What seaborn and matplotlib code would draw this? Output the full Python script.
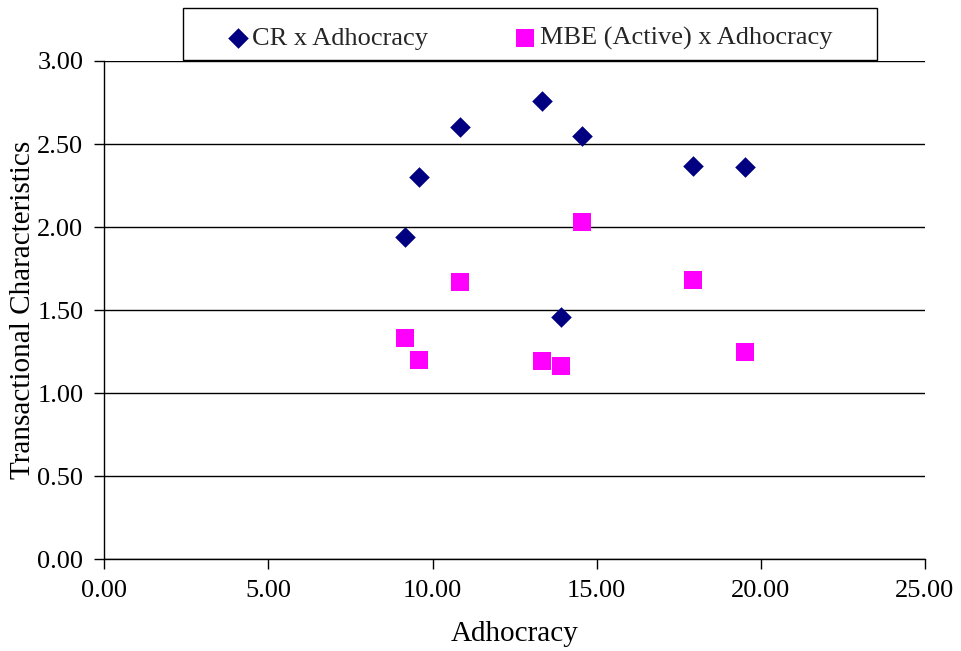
import pandas as pd
import matplotlib
matplotlib.use("Agg")
import matplotlib.pyplot as plt
import matplotlib.patches as patches
import seaborn as sns

# values
adhocracy = [9.17, 9.59, 10.84, 13.34, 14.54, 13.90, 17.94, 19.53]
cr_values = [1.94, 2.30, 2.60, 2.76, 2.55, 1.46, 2.37, 2.36]
mbe_values = [1.33, 1.20, 1.67, 1.19, 2.03, 1.16, 1.68, 1.25]

series_names = ["CR x Adhocracy", "MBE (Active) x Adhocracy"]
x_ticks = [0, 5, 10, 15, 20, 25]
y_ticks = [0, 0.5, 1.0, 1.5, 2.0, 2.5, 3.0]

df = pd.DataFrame(
    {
        "Adhocracy": adhocracy + adhocracy,
        "value": cr_values + mbe_values,
        "series": [series_names[0]] * len(cr_values)
        + [series_names[1]] * len(mbe_values),
    }
)

sns.set_style("white")
plt.rcParams["font.family"] = ["Liberation Serif", "DejaVu Serif"]

W, H = 961, 651
fig = plt.figure(figsize=(W / 100, H / 100), dpi=100)
ax = fig.add_axes([0.1085, 0.1413, 0.854, 0.765])

palette = {series_names[0]: "#000080", series_names[1]: "#FF00FF"}
markers = {series_names[0]: "D", series_names[1]: "s"}
sizes = {series_names[0]: 110, series_names[1]: 165}

for name in series_names:
    sub = df[df["series"] == name]
    sns.scatterplot(
        data=sub,
        x="Adhocracy",
        y="value",
        color=palette[name],
        marker=markers[name],
        s=sizes[name],
        linewidth=0,
        label=name,
        ax=ax,
        zorder=3,
    )

ax.set_xlim(0, 25)
ax.set_ylim(0, 3)
ax.set_xticks(x_ticks)
ax.set_yticks(y_ticks)
ax.set_xticklabels([f"{v:.2f}" for v in x_ticks])
ax.set_yticklabels([f"{v:.2f}" for v in y_ticks])
ax.tick_params(
    axis="both", direction="out", length=7, width=1, color="black",
    labelsize=19, labelcolor="black", pad=8,
    bottom=True, left=True,
)
ax.yaxis.grid(True, color="black", linewidth=1)
ax.xaxis.grid(False)
ax.set_axisbelow(True)

for side in ["top", "right"]:
    ax.spines[side].set_visible(False)
for side in ["left", "bottom"]:
    ax.spines[side].set_color("black")
    ax.spines[side].set_linewidth(1)

ax.set_xlabel("Adhocracy", fontsize=21, color="black", labelpad=14)
ax.set_ylabel("Transactional Characteristics", fontsize=21, color="black")
ax.yaxis.set_label_coords(-0.083, 0.5)

# legend entries without a frame, spread over the box; the box is drawn separately
ax.legend(
    loc="center",
    bbox_to_anchor=(227 / W, 1 - 64 / H, (832 - 227) / W, 52 / H),
    bbox_transform=fig.transFigure,
    mode="expand",
    ncol=2,
    fontsize=19,
    frameon=False,
    handletextpad=0.15,
    borderpad=0,
    borderaxespad=0,
    markerscale=1.0,
    handlelength=0.8,
)
fig.add_artist(
    patches.Rectangle(
        (183 / W, 1 - 60 / H), 694 / W, 52 / H,
        transform=fig.transFigure, fill=False, edgecolor="black", linewidth=1,
    )
)

fig.savefig("out.png", dpi=100)
plt.close(fig)
